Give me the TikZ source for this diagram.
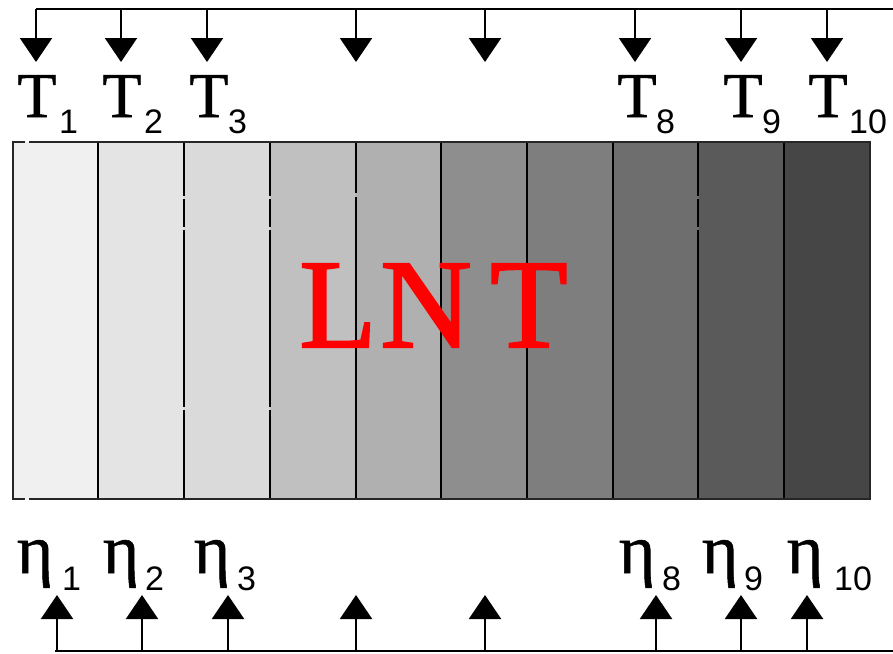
\documentclass[tikz,border=0pt]{standalone}
\usepackage{fontspec}
\setmainfont{Liberation Serif}
\newfontfamily\subfont{Liberation Sans}
\newfontfamily\lntfont[FakeBold=1.6]{Liberation Serif}
\newfontfamily\labfont[FakeBold=0.8]{Liberation Serif}
\usetikzlibrary{arrows.meta}
\definecolor{lntred}{RGB}{255,0,0}
\definecolor{cA}{RGB}{240,240,240}
\definecolor{cB}{RGB}{228,228,228}
\definecolor{cC}{RGB}{218,218,218}
\definecolor{cD}{RGB}{192,192,192}
\definecolor{cE}{RGB}{176,176,176}
\definecolor{cF}{RGB}{142,142,142}
\definecolor{cG}{RGB}{126,126,126}
\definecolor{cH}{RGB}{110,110,110}
\definecolor{cI}{RGB}{90,90,90}
\definecolor{cJ}{RGB}{70,70,70}
\tikzset{
  bus/.style={line width=2.2pt, black},
  arr/.style={line width=2.2pt, black, -{Triangle[width=32pt,length=24pt]}},
  sep/.style={line width=2.6pt, black},
  border/.style={line width=2.4pt, black!85},
  tlab/.style={inner sep=0pt, anchor=base, font=\labfont\fontsize{64}{64}\selectfont},
  elab/.style={inner sep=0pt, anchor=base, font=\labfont\fontsize{70}{70}\selectfont},
  sublab/.style={inner sep=0pt, anchor=base west, font=\subfont\fontsize{34}{34}\selectfont},
  big/.style={inner sep=0pt, anchor=base, text=lntred, font=\lntfont\fontsize{127}{127}\selectfont}
}
\begin{document}
\begin{tikzpicture}[x=1pt,y=-1pt]
\useasboundingbox (0,0) rectangle (893,653);
% columns
\foreach \c [count=\i from 0] in {cA,cB,cC,cD,cE,cF,cG,cH,cI,cJ}{
  \fill[\c] ({13+85.7*\i},142) rectangle ({13+85.7*(\i+1)},499);
}
% separators
\draw[sep] (98,142) -- (98,499);
\draw[sep] (184,142) -- (184,196) (184,199) -- (184,227) (184,230) -- (184,407) (184,410) -- (184,499);
\draw[sep] (270,142) -- (270,196) (270,199) -- (270,227) (270,230) -- (270,407) (270,410) -- (270,499);
\draw[sep] (356,142) -- (356,193) (356,197) -- (356,499);
\draw[sep] (441,142) -- (441,499);
\draw[sep] (527,142) -- (527,499);
\draw[sep] (613,142) -- (613,499);
\draw[sep] (698,142) -- (698,196) (698,199) -- (698,227) (698,230) -- (698,499);
\draw[sep] (784,142) -- (784,499);
% border
\draw[border] (25,142) -- (13,142) -- (13,499) -- (25,499);
\draw[border] (29,142) -- (870,142) -- (870,499) -- (29,499);
% LNT
\node[big] (lL) at (338,347) {L};
\node[big] (lN) at (426,347) {N};
\node[big] (lT) at (529,347) {T};
% top bus
\coordinate (tbL) at (36,9);
\coordinate (tbR) at (893,9);
\draw[bus] (tbL) -- (tbR);
\foreach \x [count=\k] in {36,121,207,356,485,635,741,827}{
  \coordinate (ts\k) at (\x,9);
  \coordinate (te\k) at (\x,62);
  \draw[arr] (ts\k) -- (te\k);
}
% bottom bus
\coordinate (bbL) at (55,651);
\coordinate (bbR) at (893,651);
\draw[bus] (bbL) -- (bbR);
\foreach \x [count=\k] in {57,142,228,356,485,656,741,807}{
  \coordinate (bs\k) at (\x,651);
  \coordinate (be\k) at (\x,595);
  \draw[arr] (bs\k) -- (be\k);
}
% T labels
\node[tlab] (T1) at (37,117) {T};
\node[sublab] (Ts1) at (59,133) {1};
\node[tlab] (T2) at (122,117) {T};
\node[sublab] (Ts2) at (144,133) {2};
\node[tlab] (T3) at (209,117) {T};
\node[sublab] (Ts3) at (228,133) {3};
\node[tlab] (T8) at (637,117) {T};
\node[sublab] (Ts8) at (656,133) {8};
\node[tlab] (T9) at (743,117) {T};
\node[sublab] (Ts9) at (762,133) {9};
\node[tlab] (T10) at (828,117) {T};
\node[sublab] (Ts10) at (849,133) {10};
% eta labels
\node[elab] (E1) at (35,573) {η};
\node[sublab] (Es1) at (62,590) {1};
\node[elab] (E2) at (121,573) {η};
\node[sublab] (Es2) at (145,590) {2};
\node[elab] (E3) at (212,573) {η};
\node[sublab] (Es3) at (237,590) {3};
\node[elab] (E8) at (637,573) {η};
\node[sublab] (Es8) at (662,590) {8};
\node[elab] (E9) at (720,573) {η};
\node[sublab] (Es9) at (744,590) {9};
\node[elab] (E10) at (805,573) {η};
\node[sublab] (Es10) at (834,590) {10};
\end{tikzpicture}
\end{document}
